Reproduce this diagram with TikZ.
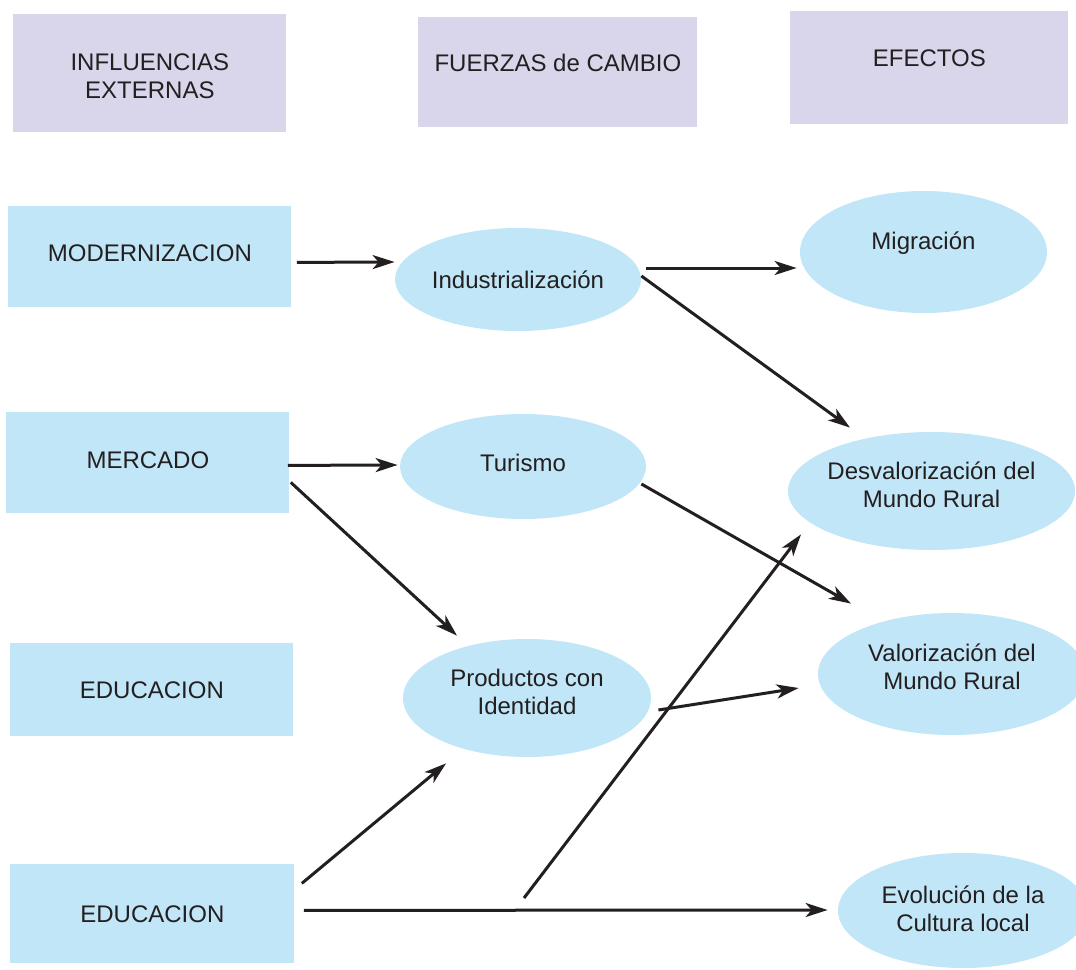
\documentclass[tikz,border=0pt]{standalone}
\usepackage{fontspec}
\setmainfont{Liberation Sans}
\usetikzlibrary{shapes.geometric,arrows.meta}
\definecolor{lblue}{HTML}{C1E6F7}
\definecolor{lav}{HTML}{D9D5EA}
\definecolor{ink}{HTML}{231F20}
\begin{document}
\begin{tikzpicture}[x=0.5pt,y=-0.5pt,
  every node/.style={font=\fontsize{12}{14}\selectfont, text=ink, align=center},
  hdr/.style={rectangle, fill=lav, anchor=north west, inner sep=0pt},
  box/.style={rectangle, fill=lblue, anchor=north west, inner sep=0pt},
  ell/.style={ellipse, fill=lblue, inner sep=0pt},
  arr/.style={draw=ink, line width=1.5pt, -{Stealth[length=11pt,width=7pt,inset=3pt]}},
  ln/.style={draw=ink, line width=1.5pt}]
\useasboundingbox (0,0) rectangle (1076,969);
\clip (0,0) rectangle (1076,969);
% headers
\node[hdr, minimum width=136.5pt, minimum height=59pt,
  label={[name=h1t, yshift=-1.5pt]center:INFLUENCIAS\\EXTERNAS}] (h1) at (13,14) {};
\node[hdr, minimum width=139.5pt, minimum height=55pt,
  label={[name=h2t, yshift=4.5pt]center:FUERZAS de CAMBIO}] (h2) at (418,17) {};
\node[hdr, minimum width=139pt, minimum height=56.5pt,
  label={[name=h3t, yshift=4.75pt]center:EFECTOS}] (h3) at (790,11) {};
% left boxes
\node[box, minimum width=141.5pt, minimum height=50.5pt,
  label={[name=modt, yshift=2pt]center:MODERNIZACION}] (mod) at (8,206) {};
\node[box, minimum width=141.5pt, minimum height=50.5pt,
  label={[name=mert, yshift=1.5pt]center:MERCADO}] (mer) at (6,412) {};
\node[box, minimum width=141.5pt, minimum height=46.5pt] (edu1) at (10,643) {EDUCACION};
\node[box, minimum width=142pt, minimum height=49.5pt] (edu2) at (10,864) {EDUCACION};
% middle ellipses
\node[ell, minimum width=123pt, minimum height=51.5pt,
  label={[name=indt]center:Industrialización}] (ind) at (518,279.5) {};
\node[ell, minimum width=123pt, minimum height=52.5pt,
  label={[name=turt, yshift=1.75pt]center:Turismo}] (tur) at (523,466.5) {};
\node[ell, minimum width=124pt, minimum height=59pt,
  label={[name=prot, yshift=3pt]center:Productos con\\Identidad}] (pro) at (527,698) {};
% right ellipses
\node[ell, minimum width=123.5pt, minimum height=61pt,
  label={[name=migt, yshift=4.5pt]center:Migración}] (mig) at (923.5,252) {};
\node[ell, minimum width=143.5pt, minimum height=59pt,
  label={[name=dest, yshift=3pt]center:Desvalorización del\\Mundo Rural}] (des) at (931.5,491) {};
\node[ell, minimum width=134pt, minimum height=61pt,
  label={[name=valt, yshift=3.5pt]center:Valorización del\\Mundo Rural}] (val) at (952,674) {};
\node[ell, minimum width=125pt, minimum height=57.5pt,
  label={[name=evot, yshift=1pt]center:Evolución de la\\Cultura local}] (evo) at (963,910.5) {};
% connectors
\draw[arr] ([shift={(5,5.5)}]mod.east) -- ([shift={(0,-17.5)}]ind.west);
\draw[arr] ([shift={(5,-11.5)}]ind.east) -- ([shift={(-3,16)}]mig.west);
\draw[arr] ([shift={(0,-3.5)}]ind.east) -- ([shift={(-81.5,-4)}]des.north);
\draw[arr] ([shift={(-2,2.5)}]mer.east) -- ([shift={(-2,-1.5)}]tur.west);
\draw[arr] ([shift={(1,19.5)}]mer.east) -- ([shift={(-70,-3)}]pro.north);
\draw[arr] ([shift={(-5,17.5)}]tur.east) -- ([shift={(-101,-9)}]val.north);
\draw[arr] ([shift={(7,12)}]pro.east) -- ([shift={(-19,14)}]val.west);
\draw[arr] ([shift={(7,-30.5)}]edu2.east) -- ([shift={(-81,6)}]pro.south);
\draw[arr] ([shift={(9,-3.5)}]edu2.east) -- ([shift={(-10,-0.5)}]evo.west);
\coordinate (br) at (524,898);
\draw[arr] (br) -- ([shift={(-130.5,-16)}]des.south);
\end{tikzpicture}
\end{document}
